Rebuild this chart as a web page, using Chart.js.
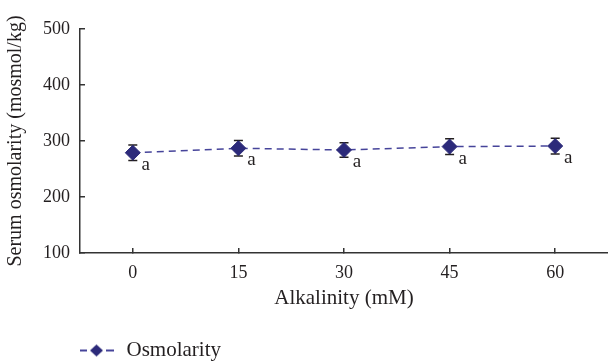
<!DOCTYPE html>
<html>
<head>
<meta charset="utf-8">
<script src="https://cdn.jsdelivr.net/npm/chart.js@4/dist/chart.umd.min.js"></script>
<style>
  html, body { margin: 0; padding: 0; background: #fff; }
</style>
</head>
<body>
<canvas id="chart" width="608" height="364"></canvas>
<script>
// Serum osmolarity by alkalinity level (mean ± error)
const alkalinity = ['0', '15', '30', '45', '60']
const osmolarity = [279, 287, 284, 290, 291]
const osmolarityErr = [14, 14, 13, 14, 14]
const groupLetters = ['a', 'a', 'a', 'a', 'a']
const yTicks = [100, 200, 300, 400, 500]

const NAVY = '#2c2a7a'
const LINE = '#46449a'
const INK = '#231f20'
const SERIF = "'Liberation Serif', 'DejaVu Serif', serif"

// small "- ◆ -" sample for the legend
function legendSample() {
    const c = document.createElement('canvas')
    c.width = 44
    c.height = 14
    const ctx = c.getContext('2d')
    ctx.strokeStyle = LINE
    ctx.lineWidth = 2
    ctx.beginPath()
    ctx.moveTo(1, 7); ctx.lineTo(10, 7)
    ctx.moveTo(29, 7); ctx.lineTo(37, 7)
    ctx.stroke()
    ctx.fillStyle = NAVY
    ctx.beginPath()
    ctx.moveTo(19.5, 1); ctx.lineTo(26, 7); ctx.lineTo(19.5, 13); ctx.lineTo(13, 7)
    ctx.closePath()
    ctx.fill()
    return c
}

// vertical error bars with caps, drawn under the markers
const errorBars = {
    id: 'errorBars',
    beforeDatasetsDraw(chart) {
        const { ctx, scales: { y } } = chart
        const meta = chart.getDatasetMeta(0)
        ctx.save()
        ctx.strokeStyle = INK
        ctx.lineWidth = 1.5
        meta.data.forEach((pt, i) => {
            const top = y.getPixelForValue(osmolarity[i] + osmolarityErr[i])
            const bot = y.getPixelForValue(osmolarity[i] - osmolarityErr[i])
            ctx.beginPath()
            ctx.moveTo(pt.x, top); ctx.lineTo(pt.x, bot)
            ctx.moveTo(pt.x - 4.5, top); ctx.lineTo(pt.x + 4.5, top)
            ctx.moveTo(pt.x - 4.5, bot); ctx.lineTo(pt.x + 4.5, bot)
            ctx.stroke()
        })
        ctx.restore()
    }
}

// significance letters next to each point
const letters = {
    id: 'letters',
    afterDatasetsDraw(chart) {
        const { ctx } = chart
        const meta = chart.getDatasetMeta(0)
        ctx.save()
        ctx.fillStyle = INK
        ctx.font = '19px ' + SERIF
        ctx.textAlign = 'center'
        ctx.textBaseline = 'alphabetic'
        meta.data.forEach((pt, i) => {
            ctx.fillText(groupLetters[i], pt.x + 13, pt.y + 17)
        })
        ctx.restore()
    }
}

new Chart(document.getElementById('chart'), {
    type: 'line',
    data: {
        labels: alkalinity,
        datasets: [{
            label: 'Osmolarity',
            data: osmolarity,
            borderColor: LINE,
            borderWidth: 1.5,
            borderDash: [7, 5],
            pointStyle: 'rectRot',
            pointRadius: 7.5,
            pointBackgroundColor: NAVY,
            pointBorderColor: NAVY,
            pointBorderWidth: 1,
            fill: false,
            tension: 0
        }]
    },
    options: {
        responsive: false,
        animation: false,
        layout: { autoPadding: false, padding: { top: 29, right: 0, left: 0, bottom: 0 } },
        plugins: {
            tooltip: { enabled: false },
            legend: {
                position: 'bottom',
                align: 'start',
                fullSize: false,
                maxHeight: 26,
                labels: {
                    usePointStyle: true,
                    pointStyle: legendSample(),
                    pointStyleWidth: 34,
                    padding: 2,
                    color: INK,
                    font: { family: SERIF, size: 21 }
                }
            }
        },
        scales: {
            x: {
                offset: true,
                grid: { display: true, drawOnChartArea: false, offset: false, tickLength: -5, color: '#333', lineWidth: 1.5 },
                border: { display: true, color: '#333', width: 1.5 },
                ticks: { color: INK, padding: 14, font: { family: SERIF, size: 18 } },
                title: {
                    display: true,
                    text: 'Alkalinity (mM)',
                    color: INK,
                    font: { family: SERIF, size: 21 },
                    padding: { top: 4, bottom: 27 }
                },
                afterFit(scale) {
                    scale.height = 85
                    scale.paddingLeft = 0
                    scale.paddingRight = 0
                }
            },
            y: {
                min: yTicks[0],
                max: yTicks[yTicks.length - 1],
                grid: { display: true, drawOnChartArea: false, tickLength: -5, color: '#333', lineWidth: 1.5 },
                border: { display: true, color: '#333', width: 1.5 },
                ticks: { stepSize: yTicks[1] - yTicks[0], color: INK, padding: 15, font: { family: SERIF, size: 18 } },
                title: {
                    display: true,
                    text: 'Serum osmolarity (mosmol/kg)',
                    color: INK,
                    font: { family: SERIF, size: 20 },
                    padding: { top: 4, bottom: 4 }
                },
                afterFit(scale) { scale.width = 80 }
            }
        }
    },
    plugins: [errorBars, letters]
})
</script>
</body>
</html>
